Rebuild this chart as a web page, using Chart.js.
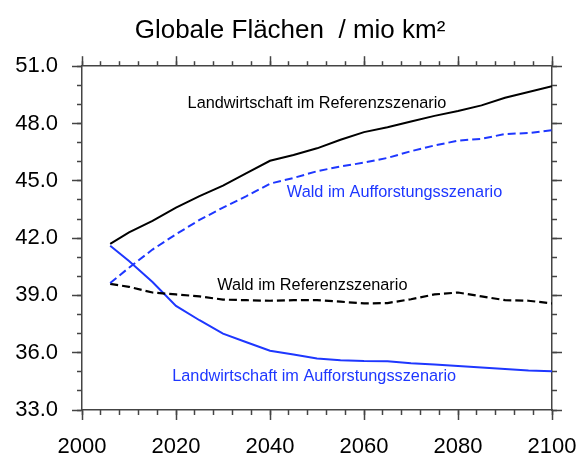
<!DOCTYPE html>
<html>
<head>
<meta charset="utf-8">
<script src="https://cdn.jsdelivr.net/npm/chart.js@4.4.0/dist/chart.umd.min.js"></script>
<style>
  html, body { margin: 0; padding: 0; background: #fff; }
  #wrap { width: 580px; height: 457px; }
</style>
</head>
<body>
<div id="wrap"><canvas id="chart" width="580" height="457"></canvas></div>
<script>
// Years of the model output
const years = [2006, 2010, 2015, 2020, 2025, 2030, 2035, 2040, 2045, 2050, 2055, 2060, 2065, 2070, 2075, 2080, 2085, 2090, 2095, 2100];

// Global areas in million km²
const agriReference = [41.7, 42.3, 42.9, 43.6, 44.2, 44.75, 45.4, 46.05, 46.35, 46.7, 47.15, 47.55, 47.8, 48.1, 48.4, 48.65, 48.95, 49.35, 49.65, 49.95];
const forestAfforest = [39.65, 40.45, 41.4, 42.2, 42.95, 43.6, 44.2, 44.85, 45.15, 45.5, 45.75, 45.95, 46.2, 46.55, 46.85, 47.1, 47.2, 47.45, 47.5, 47.65];
const forestReference = [39.6, 39.45, 39.15, 39.05, 38.95, 38.78, 38.75, 38.72, 38.75, 38.75, 38.67, 38.58, 38.6, 38.8, 39.05, 39.15, 38.95, 38.75, 38.72, 38.58];
const agriAfforest = [41.6, 40.8, 39.7, 38.45, 37.7, 37.0, 36.55, 36.1, 35.9, 35.7, 35.6, 35.56, 35.55, 35.45, 35.38, 35.3, 35.22, 35.15, 35.07, 35.03];

// Curve labels (text, year, value)
const curveLabels = [
    ['Landwirtschaft im Referenzszenario', 2050, 49.06],
    ['Wald im Aufforstungsszenario', 2066.5, 44.41],
    ['Wald im Referenzszenario', 2049, 39.54],
    ['Landwirtschaft im Aufforstungsszenario', 2049.4, 34.73]
];

const BLUE = 'rgb(30, 55, 255)';
const AXIS = '#444';
const FONT = '"Liberation Sans", Arial, Helvetica, sans-serif';
const labelColors = ['#000', BLUE, '#000', BLUE];

function toPoints(vals) {
    return years.map((yr, i) => ({ x: yr, y: vals[i] }));
}

// Draws the text next to each curve, placed through the scales
const curveLabelPlugin = {
    id: 'curveLabels',
    afterDatasetsDraw(chart) {
        const ctx = chart.ctx;
        const xs = chart.scales.x, ys = chart.scales.y;
        ctx.save();
        ctx.font = '16.3px ' + FONT;
        ctx.textAlign = 'center';
        ctx.textBaseline = 'middle';
        curveLabels.forEach((l, i) => {
            ctx.fillStyle = labelColors[i];
            ctx.fillText(l[0], xs.getPixelForValue(l[1]), ys.getPixelForValue(l[2]));
        });
        ctx.restore();
    }
};

function line(data, color, dash, width) {
    return {
        data: toPoints(data),
        borderColor: color,
        borderWidth: width,
        borderDash: dash,
        pointRadius: 0,
        fill: false,
        tension: 0
    };
}

// major / minor tick axes; minor ones have no size of their own
function axis(pos, min, max, step, major, size, showLabels) {
    const horizontal = pos === 'top' || pos === 'bottom';
    return {
        type: 'linear',
        position: pos,
        min: min,
        max: max,
        weight: major ? 1 : 0,
        ticks: {
            display: showLabels,
            stepSize: step,
            autoSkip: false,
            maxRotation: 0,
            padding: 14,
            color: '#000',
            font: { family: FONT, size: 22 },
            callback: v => horizontal ? String(v) : v.toFixed(1)
        },
        grid: {
            drawOnChartArea: false,
            drawTicks: true,
            tickLength: major ? 10 : 5,
            tickColor: AXIS,
            tickWidth: 1.5
        },
        border: { display: major, color: AXIS, width: 1.5 },
        afterFit(s) {
            if (horizontal) {
                s.height = size;
                s.paddingLeft = 0;
                s.paddingRight = 0;
            } else {
                s.width = size;
                s.paddingTop = 0;
                s.paddingBottom = 0;
            }
        }
    };
}

const config = {
    type: 'line',
    data: {
        datasets: [
            line(agriReference, '#000', [], 2),
            line(forestAfforest, BLUE, [8, 4], 2),
            line(forestReference, '#000', [8, 4], 2.2),
            line(agriAfforest, BLUE, [], 2)
        ]
    },
    options: {
        responsive: false,
        animation: false,
        layout: { padding: 0 },
        plugins: {
            legend: { display: false },
            tooltip: { enabled: false },
            title: {
                display: true,
                text: 'Globale Flächen  / mio km²',
                color: '#000',
                font: { family: FONT, size: 26, weight: 'normal' },
                padding: { top: 15, bottom: 0 }
            }
        },
        scales: {
            x: axis('bottom', 2000, 2100, 20, true, 47, true),
            xMinor: axis('bottom', 2000, 2100, 4, false, 0, false),
            xTop: axis('top', 2000, 2100, 20, true, 20, false),
            xTopMinor: axis('top', 2000, 2100, 4, false, 0, false),
            y: axis('left', 33, 51, 3, true, 82, true),
            yMinor: axis('left', 33, 51, 1, false, 0, false),
            yRight: axis('right', 33, 51, 3, true, 28, false),
            yRightMinor: axis('right', 33, 51, 1, false, 0, false)
        }
    },
    plugins: [curveLabelPlugin]
};

document.addEventListener('DOMContentLoaded', function() {
    new Chart(document.getElementById('chart').getContext('2d'), config);
});
</script>
</body>
</html>
